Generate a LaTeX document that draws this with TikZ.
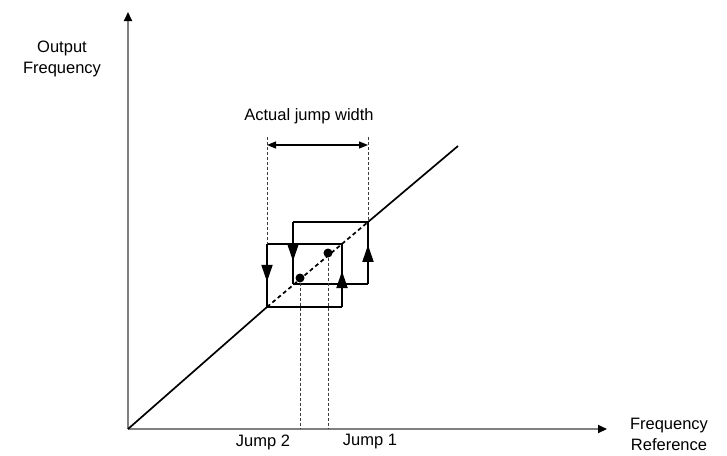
\documentclass[tikz,border=0pt]{standalone}
\usepackage{fontspec}
\setmainfont{Liberation Sans}
\usetikzlibrary{arrows.meta, positioning, decorations.markings}

\begin{document}
\begin{tikzpicture}[
    x=1pt, y=-1pt,
    every node/.style={font=\fontsize{16.5}{20}\selectfont, inner sep=0pt},
    axis/.style={draw={rgb,255:red,128;green,128;blue,128}, line width=2pt,
        -{Triangle[length=9pt, width=8pt, color=black]}},
    loopline/.style={line width=2pt, line join=miter},
    diag/.style={line width=1.7pt},
    guide/.style={dashed, dash pattern=on 3pt off 2pt, line width=0.8pt, draw={rgb,255:red,60;green,60;blue,60}},
    flow/.style={postaction={decorate}, decoration={markings,
        mark=at position #1 with {\arrow{Triangle[length=17pt, width=11pt]}}}},
    dot/.style={circle, fill=black, minimum size=9pt}
]
    \useasboundingbox (0,0) rectangle (727,455);

    % ---- Axes ----
    \coordinate (origin) at (128,429);
    \coordinate (ytop) at (128,12);
    \coordinate (xend) at (607,429);
    \draw[axis] (origin) -- (ytop);
    \draw[axis] (origin) -- (xend);

    \node[align=center] (ylabel) at (62,59) {Output\\[1pt]Frequency};
    \node[align=center] (xlabel) at (669,434) {Frequency\\[1pt]Reference};

    % ---- Jump boxes ----
    \coordinate (la) at (267,244);
    \coordinate (lb) at (267,307);
    \coordinate (lc) at (342,307);
    \coordinate (ld) at (342,244);
    \coordinate (ra) at (293,222);
    \coordinate (rb) at (293,284);
    \coordinate (rc) at (368,284);
    \coordinate (rd) at (368,222);

    % ---- Characteristic ----
    \coordinate (diagend) at (458,146);
    \draw[diag] (origin) -- (lb);
    \draw[diag, dashed, dash pattern=on 4pt off 3pt] (lb) -- (rd);
    \draw[diag] (rd) -- (diagend);

    \draw[loopline] (ld) -- (la);
    \draw[loopline, flow=0.6] (la) -- (lb);
    \draw[loopline] (lb) -- (lc);
    \draw[loopline, flow=0.57] (lc) -- (ld);
    \draw[loopline] (rd) -- (ra);
    \draw[loopline, flow=0.63] (ra) -- (rb);
    \draw[loopline] (rb) -- (rc);
    \draw[loopline, flow=0.63] (rc) -- (rd);

    % ---- Jump points ----
    \node[dot] (jtwo) at (300,278) {};
    \node[dot] (jone) at (328,253) {};
    \coordinate (jtwofoot) at (300,429);
    \coordinate (jonefoot) at (328,429);
    \draw[guide] (jtwo) -- (jtwofoot);
    \draw[guide] (jone) -- (jonefoot);

    \node (jumptwo) at (263,442) {Jump 2};
    \node (jumpone) at (370,442) {Jump 1};

    % ---- Jump width ----
    \coordinate (wl) at (267,137);
    \coordinate (wr) at (368,137);
    \draw[guide] (wl) -- (la);
    \draw[guide] (wr) -- (rd);
    \draw[line width=1.2pt, {Triangle[length=9pt, width=7pt]}-{Triangle[length=9pt, width=7pt]}]
        (267,145) -- (368,145);
    \node (widthlabel) at (309,116) {Actual jump width};

\end{tikzpicture}
\end{document}
